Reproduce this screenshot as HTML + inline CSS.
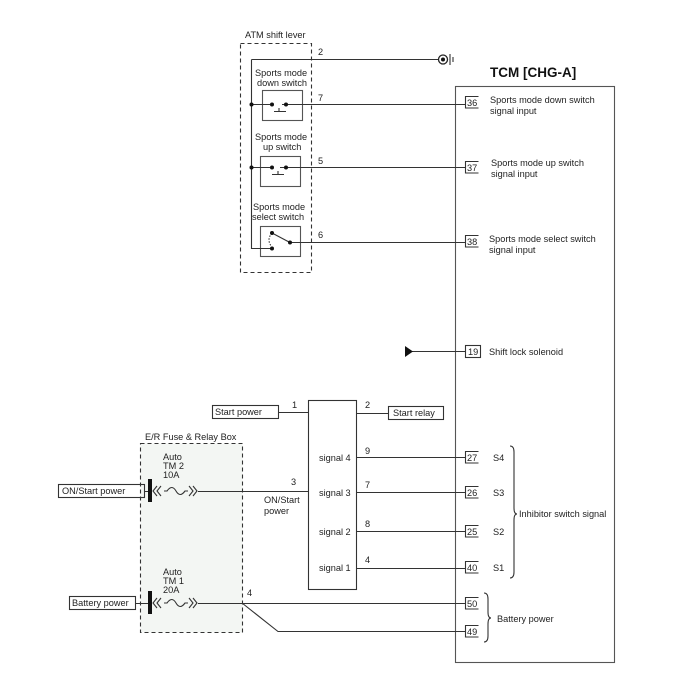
<!DOCTYPE html>
<html><head><meta charset="utf-8"><style>
html,body{margin:0;padding:0;background:#fff;}
svg{display:block;font-family:"Liberation Sans",Arial,sans-serif;}
text{font-size:9.2px;fill:#222;}
</style></head><body>
<svg width="700" height="693" viewBox="0 0 700 693" xmlns="http://www.w3.org/2000/svg">
<g stroke="#333" stroke-width="1.1" fill="none">
<rect x="240.5" y="43.5" width="71" height="229" stroke-dasharray="4,3"/>
<rect x="140.5" y="443.5" width="102" height="189" stroke-dasharray="4,3" fill="#f3f6f3"/>
<rect x="455.5" y="86.5" width="159" height="576" stroke="#555"/>
<rect x="308.5" y="400.5" width="48" height="189"/>
<rect x="262.5" y="90.5" width="40" height="30" stroke="#555"/>
<rect x="260.5" y="156.5" width="40" height="30" stroke="#555"/>
<rect x="260.5" y="226.5" width="40" height="30" stroke="#555"/>
<path d="M251.5 59.5 V248.5 H272"/>
<path d="M251.5 59.5 H438"/>
<path d="M251.5 104.5 H270 M282 104.5 H465"/>
<path d="M251.5 167.5 H270 M280 167.5 H465"/>
<path d="M289 242.5 H465"/>
<path d="M272 233 L289 242" />
<path d="M272 233 Q266 240 272 247" stroke-dasharray="1.5,1.5"/>
<path d="M274 111.5 H286 M279 111 V108"/>
<path d="M272 174.5 H284 M278 174 V171"/>
<path d="M412 351.5 H465"/>
<rect x="212.5" y="405.5" width="66" height="13"/>
<rect x="388.5" y="406.5" width="55" height="13"/>
<path d="M278 412.5 H308 M356 413.5 H388"/>
<path d="M356 457.5 H465 M356 492.5 H465 M356 531.5 H465 M356 568.5 H465"/>
<rect x="58.5" y="484.5" width="86" height="13"/>
<path d="M144 491.5 H150 M198 491.5 H308"/>
<path d="M157 486 L153 491 L157 496 M161 486 L157 491 L161 496"/>
<path d="M164 491 H167 Q172 484 176 491 Q180 498 185 491 H188"/>
<path d="M189 486 L193 491 L189 496 M193 486 L197 491 L193 496"/>
<rect x="69.5" y="596.5" width="66" height="13"/>
<path d="M135 603.5 H150 M198 603.5 H465"/>
<path d="M157 598 L153 603 L157 608 M161 598 L157 603 L161 608"/>
<path d="M164 603 H167 Q172 596 176 603 Q180 610 185 603 H188"/>
<path d="M189 598 L193 603 L189 608 M193 598 L197 603 L193 608"/>
<path d="M242 603 L278 631.5 H465"/>
<path d="M465.5 96.5 h13 M465.5 96 v12 h13"/>
<path d="M465.5 161.5 h13 M465.5 161 v12 h13"/>
<path d="M465.5 235.5 h13 M465.5 235 v12 h13"/>
<rect x="465.5" y="345.5" width="15" height="12"/>
<path d="M465.5 451.5 h13 M465.5 451 v12 h13"/>
<path d="M465.5 486.5 h13 M465.5 486 v12 h13"/>
<path d="M465.5 525.5 h13 M465.5 525 v12 h13"/>
<path d="M465.5 561.5 h13 M465.5 561 v12 h13"/>
<path d="M465.5 597.5 h13 M465.5 597 v12 h13"/>
<path d="M465.5 625.5 h13 M465.5 625 v12 h13"/>
<path d="M510 446 Q514 446 514 452 V508 Q514 514 517 514 Q514 514 514 520 V572 Q514 578 510 578"/>
<path d="M484 593 Q488 593 488 599 V612 Q488 618 491 618 Q488 618 488 624 V636 Q488 642 484 642"/>
<path d="M450 54 V65 M453 57 V62"/>
</g>
<circle cx="443" cy="59.5" r="4.5" fill="#fff" stroke="#222" stroke-width="1.3"/>
<circle cx="443" cy="59.5" r="2" fill="#111"/>
<g fill="#111">
<circle cx="251.5" cy="104.5" r="2"/><circle cx="251.5" cy="167.5" r="2"/>
<circle cx="272" cy="104.5" r="2"/><circle cx="286" cy="104.5" r="2"/>
<circle cx="272" cy="167.5" r="2"/><circle cx="286" cy="167.5" r="2"/>
<circle cx="272" cy="233" r="2"/><circle cx="272" cy="248.5" r="2"/><circle cx="290" cy="242.5" r="2"/>
<rect x="148" y="479" width="4" height="23"/>
<rect x="148" y="591" width="4" height="23"/>
<path d="M405 346 L413 351.5 L405 357 Z"/>
</g>
<text x="245" y="38">ATM shift lever</text>
<text x="255" y="76">Sports mode</text><text x="257" y="86">down switch</text>
<text x="255" y="140">Sports mode</text><text x="263" y="150">up switch</text>
<text x="253" y="210">Sports mode</text><text x="252" y="220">select switch</text>
<text x="318" y="55">2</text><text x="318" y="101">7</text><text x="318" y="164">5</text><text x="318" y="238">6</text>
<text x="490" y="77" style="font-size:13.5px;font-weight:bold;fill:#111">TCM [CHG-A]</text>
<text x="467" y="106">36</text><text x="490" y="103">Sports mode down switch</text><text x="490" y="114">signal input</text>
<text x="467" y="171">37</text><text x="491" y="166">Sports mode up switch</text><text x="491" y="177">signal input</text>
<text x="467" y="245">38</text><text x="489" y="242">Sports mode select switch</text><text x="489" y="253">signal input</text>
<text x="468" y="355">19</text><text x="489" y="355">Shift lock solenoid</text>
<text x="215" y="415">Start power</text><text x="292" y="408">1</text>
<text x="393" y="416">Start relay</text><text x="365" y="408">2</text>
<text x="319" y="461">signal 4</text><text x="319" y="496">signal 3</text><text x="319" y="535">signal 2</text><text x="319" y="571">signal 1</text>
<text x="365" y="454">9</text><text x="365" y="488">7</text><text x="365" y="527">8</text><text x="365" y="563">4</text>
<text x="291" y="485">3</text>
<text x="264" y="503">ON/Start</text><text x="264" y="514">power</text>
<text x="145" y="440">E/R Fuse &amp; Relay Box</text>
<text x="163" y="460">Auto</text><text x="163" y="469">TM 2</text><text x="163" y="478">10A</text>
<text x="163" y="575">Auto</text><text x="163" y="584">TM 1</text><text x="163" y="593">20A</text>
<text x="62" y="494">ON/Start power</text>
<text x="72" y="606">Battery power</text>
<text x="247" y="596">4</text>
<text x="467" y="461">27</text><text x="493" y="461">S4</text>
<text x="467" y="496">26</text><text x="493" y="496">S3</text>
<text x="467" y="535">25</text><text x="493" y="535">S2</text>
<text x="467" y="571">40</text><text x="493" y="571">S1</text>
<text x="519" y="517">Inhibitor switch signal</text>
<text x="467" y="607">50</text><text x="467" y="635">49</text>
<text x="497" y="622">Battery power</text>
</svg>
</body></html>
